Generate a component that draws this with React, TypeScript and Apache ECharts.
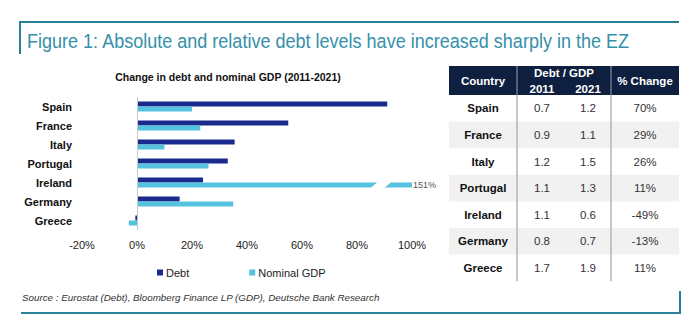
import React, { useEffect, useRef } from "react";
import * as echarts from "echarts";

const countries = ["Spain", "France", "Italy", "Portugal", "Ireland", "Germany", "Greece"];
const debtChange = [91, 55, 35.5, 33, 24, 15.5, -0.6];
const gdpChange = [20, 23, 10, 26, 151, 35, -3];
const xTicks = { min: -20, max: 100, interval: 20 };

const tableCountries = ["Spain", "France", "Italy", "Portugal", "Ireland", "Germany", "Greece"];
const ratio2011 = ["0.7", "0.9", "1.2", "1.1", "1.1", "0.8", "1.7"];
const ratio2021 = ["1.2", "1.1", "1.5", "1.3", "0.6", "0.7", "1.9"];
const pctChange = ["70%", "29%", "26%", "11%", "-49%", "-13%", "11%"];

const TITLE = "Figure 1: Absolute and relative debt levels have increased sharply in the EZ";
const SUBTITLE = "Change in debt and nominal GDP (2011-2021)";
const SOURCE = "Source : Eurostat (Debt), Bloomberg Finance LP (GDP), Deutsche Bank Research";

const FONT2 = "'Liberation Sans', Arial, sans-serif";
const DEBT_COLOR = "#1a2a8c";
const GDP_COLOR = "#55c3df";
const FRAME = "#2a7e98";

export default function App() {
  const ref = useRef<HTMLDivElement>(null);
  useEffect(() => {
    document.body.style.margin = "0";
    const chart = echarts.init(ref.current!, null, { renderer: "svg" });
    const gdpDisplay = gdpChange.map((v) => Math.min(v, xTicks.max));

    // table graphics
    const tX0 = 449, tX1 = 679, c1 = 517, c2 = 611;
    const hTop = 66, hBot = 95, rowH = 26.6;
    const tableEls: any[] = [];
    tableEls.push({ type: "rect", shape: { x: tX0, y: hTop, width: tX1 - tX0, height: hBot - hTop }, style: { fill: "#0f1f3f" } });
    tableCountries.forEach((c, i) => {
      const y = hBot + i * rowH;
      if (i % 2 === 1) {
        tableEls.push({ type: "rect", shape: { x: tX0, y, width: tX1 - tX0, height: rowH }, style: { fill: "#f1f1f1" } });
      }
    });
    [c1, c2].forEach((x) => {
      tableEls.push({ type: "line", shape: { x1: x, y1: hTop, x2: x, y2: hBot }, style: { stroke: "#9aa3b3", lineWidth: 1 } });
      tableEls.push({ type: "line", shape: { x1: x, y1: hBot, x2: x, y2: hBot + rowH * 7 }, style: { stroke: "#b5b5b5", lineWidth: 1.5 } });
    });
    const hdrStyle = { fill: "#ffffff", font: `bold 11.5px ${FONT2}`, align: "center", verticalAlign: "middle" };
    tableEls.push({ type: "text", x: (tX0 + c1) / 2, y: 81, style: { ...hdrStyle, text: "Country" } });
    tableEls.push({ type: "text", x: (c1 + c2) / 2, y: 73, style: { ...hdrStyle, text: "Debt / GDP" } });
    tableEls.push({ type: "text", x: 542, y: 89, style: { ...hdrStyle, text: "2011" } });
    tableEls.push({ type: "text", x: 588, y: 89, style: { ...hdrStyle, text: "2021" } });
    tableEls.push({ type: "text", x: (c2 + tX1) / 2, y: 81, style: { ...hdrStyle, text: "% Change" } });
    tableCountries.forEach((c, i) => {
      const cy = hBot + i * rowH + rowH / 2;
      tableEls.push({ type: "text", x: (tX0 + c1) / 2, y: cy, style: { text: c, fill: "#111", font: `bold 11.5px ${FONT2}`, align: "center", verticalAlign: "middle" } });
      tableEls.push({ type: "text", x: 542, y: cy, style: { text: ratio2011[i], fill: "#333", font: `11.5px ${FONT2}`, align: "center", verticalAlign: "middle" } });
      tableEls.push({ type: "text", x: 588, y: cy, style: { text: ratio2021[i], fill: "#333", font: `11.5px ${FONT2}`, align: "center", verticalAlign: "middle" } });
      tableEls.push({ type: "text", x: (c2 + tX1) / 2, y: cy, style: { text: pctChange[i], fill: "#333", font: `11.5px ${FONT2}`, align: "center", verticalAlign: "middle" } });
    });

    const frameEls: any[] = [
      { type: "line", shape: { x1: 19, y1: 22, x2: 679, y2: 22 }, style: { stroke: FRAME, lineWidth: 2 } },
      { type: "line", shape: { x1: 20, y1: 22, x2: 20, y2: 54 }, style: { stroke: FRAME, lineWidth: 2 } },
      { type: "line", shape: { x1: 21, y1: 313, x2: 681, y2: 313 }, style: { stroke: FRAME, lineWidth: 2 } },
      { type: "line", shape: { x1: 680, y1: 291, x2: 680, y2: 313 }, style: { stroke: FRAME, lineWidth: 2 } },
      { type: "text", x: 27, y: 41, scaleX: 0.925, style: { text: TITLE, fill: "#3590aa", font: `19.5px ${FONT2}`, verticalAlign: "middle" } },
      { type: "text", x: 228, y: 77, style: { text: SUBTITLE, fill: "#111", font: `bold 10.5px ${FONT2}`, align: "center", verticalAlign: "middle" } },
      { type: "text", x: 22, y: 297, style: { text: SOURCE, fill: "#333", font: `italic 9.8px ${FONT2}`, verticalAlign: "middle" } },
    ];

    chart.setOption({
      animation: false,
      grid: { left: 82, right: 288, top: 97, height: 133 },
      legend: {
        left: 152,
        top: 262,
        itemWidth: 6,
        itemHeight: 6,
        itemGap: 60,
        icon: "rect",
        textStyle: { fontFamily: FONT2, fontSize: 11, color: "#222", padding: [0, 0, 0, -2] },
        data: ["Debt", "Nominal GDP"],
      },
      xAxis: {
        type: "value",
        min: xTicks.min,
        max: xTicks.max,
        interval: xTicks.interval,
        axisLabel: { formatter: "{value}%", fontFamily: FONT2, fontSize: 11, color: "#222", margin: 9 },
        splitLine: { show: false },
        axisLine: { show: false },
        axisTick: { show: false },
      },
      yAxis: {
        type: "category",
        data: countries,
        inverse: true,
        axisLine: { show: false, onZero: false },
        axisTick: { show: false },
        axisLabel: { fontFamily: FONT2, fontWeight: "bold", fontSize: 11, color: "#111", margin: 10 },
      },
      series: [
        {
          name: "Debt",
          type: "bar",
          data: debtChange,
          barWidth: 5,
          barGap: "0%",
          itemStyle: { color: DEBT_COLOR },
          markLine: {
            silent: true,
            symbol: "none",
            label: { show: false },
            lineStyle: { color: "#c8c8c8", type: "solid", width: 1 },
            data: [{ xAxis: 0 }],
          },
        },
        {
          name: "Nominal GDP",
          type: "bar",
          data: gdpDisplay,
          barWidth: 5,
          barGap: "0%",
          itemStyle: { color: GDP_COLOR },
          label: {
            show: true,
            position: "right",
            distance: 1,
            fontFamily: FONT2,
            fontSize: 9,
            color: "#555",
            formatter: (p: any) => (gdpChange[p.dataIndex] > xTicks.max ? `${gdpChange[p.dataIndex]}%` : ""),
          },
        },
      ],
      graphic: [...frameEls, ...tableEls],
    });

    // axis break marks for clipped bars
    const breakEls: any[] = [];
    gdpChange.forEach((v, i) => {
      if (v > xTicks.max) {
        const [, cy] = chart.convertToPixel({ gridIndex: 0 }, [0, countries[i]]) as number[];
        const yb = cy + 6.5, yt = cy - 0.5;
        const px = (val: number) => (chart.convertToPixel({ gridIndex: 0 }, [val, countries[i]]) as number[])[0];
        breakEls.push({
          type: "polygon",
          shape: { points: [[px(84.5), yb], [px(89.5), yb], [px(92.5), yt], [px(87.5), yt]] },
          style: { fill: "#ffffff" },
          z: 100,
        });
      }
    });
    chart.setOption({ graphic: [...frameEls, ...tableEls, ...breakEls] });

    return () => chart.dispose();
  }, []);
  return <div ref={ref} style={{ width: 700, height: 330 }} />;
}
